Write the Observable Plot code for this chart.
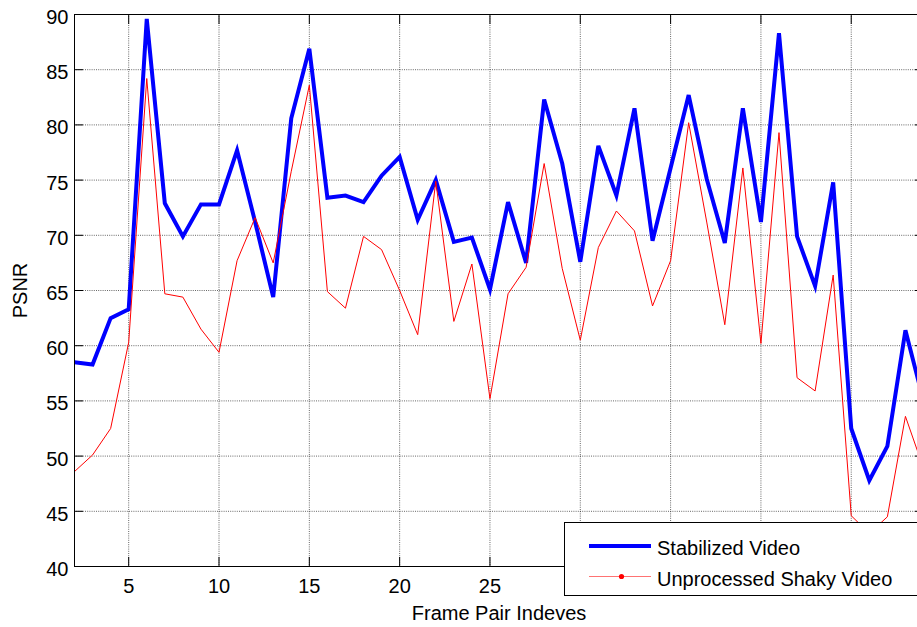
<!DOCTYPE html>
<html>
<head>
<meta charset="utf-8">
<script src="https://cdn.jsdelivr.net/npm/d3@7"></script>
<script src="https://cdn.jsdelivr.net/npm/@observablehq/plot@0.6"></script>
<style>
  html, body { margin: 0; padding: 0; background: #fff; }
  #wrap { position: relative; width: 917px; height: 627px; overflow: hidden; background: #fff; }
  #legend { position: absolute; left: 564px; top: 522px; width: 420px; height: 74px; box-sizing: border-box;
            border: 1px solid #000; background: #fff; }
  #legend svg { display: block; }
</style>
</head>
<body>
<div id="wrap"><div id="legend"></div></div>
<script>
const frameIndex = [2,3,4,5,6,7,8,9,10,11,12,13,14,15,16,17,18,19,20,21,22,23,24,25,26,27,28,29,30,31,32,33,34,35,36,37,38,39,40,41,42,43,44,45,46,47,48,49];
const stabilized = [58.5,58.3,62.5,63.3,89.6,72.9,69.9,72.8,72.8,77.7,71.2,64.4,80.6,86.9,73.4,73.6,73.0,75.4,77.1,71.4,75.0,69.4,69.8,65.1,73.0,67.5,82.3,76.5,67.6,78.1,73.6,81.5,69.5,76.1,82.7,75.1,69.3,81.5,71.2,88.3,69.9,65.4,74.8,52.5,47.8,50.9,61.4,55.0];
const shaky = [48.6,50.1,52.5,60.3,84.2,64.7,64.4,61.5,59.4,67.7,71.6,67.5,75.8,83.6,64.9,63.4,69.9,68.7,65.0,61.0,74.9,62.2,67.4,55.2,64.7,67.1,76.5,67.0,60.5,68.9,72.2,70.4,63.6,67.7,80.2,71.2,61.9,76.1,60.2,79.3,57.1,55.9,66.4,44.6,43.0,44.5,53.6,48.9];
const seriesNames = ["Stabilized Video", "Unprocessed Shaky Video"];
const seriesColors = ["#0000ff", "#ff0000"];
const xTicks = [5,10,15,20,25,30,35,40,45];
// tick labels visible in the reference (30–45 are hidden under the legend box)
const xTickLabels = [5,10,15,20,25];
const yTicks = [40,45,50,55,60,65,70,75,80,85,90];
const xLabel = "Frame Pair Indeves";
const yLabel = "PSNR";

const stabData = frameIndex.map((x, i) => ({x, y: stabilized[i]}));
const shakyData = frameIndex.map((x, i) => ({x, y: shaky[i]}));

const font = "'Liberation Sans', Arial, Helvetica, sans-serif";
const gridStyle = {stroke: "#000", strokeOpacity: 0.6, strokeDasharray: "1,1.2", strokeWidth: 1};

const chart = Plot.plot({
  width: 917,
  height: 627,
  marginTop: 14,
  marginBottom: 61,
  marginLeft: 74,
  marginRight: -6,
  x: {domain: [2, 49]},
  y: {domain: [40, 90]},
  style: {fontFamily: font, fontSize: "20px", color: "#000", background: "#fff", overflow: "hidden"},
  marks: [
    Plot.gridX(xTicks, gridStyle),
    Plot.gridY(yTicks, gridStyle),
    Plot.line(stabData, {x: "x", y: "y", stroke: seriesColors[0], strokeWidth: 4, strokeLinejoin: "miter", strokeMiterlimit: 4, clip: true}),
    Plot.line(shakyData, {x: "x", y: "y", stroke: seriesColors[1], strokeWidth: 1, clip: true}),
    Plot.frame({stroke: "#000", strokeWidth: 1}),
    Plot.axisX(xTickLabels, {anchor: "bottom", tickSize: 0, tickPadding: 12, fontSize: 20,
      label: xLabel, labelAnchor: "center", labelOffset: 53, labelArrow: "none"}),
    Plot.axisX(xTicks, {anchor: "bottom", tickSize: -9, text: null, label: null}),
    Plot.axisX(xTicks, {anchor: "top", tickSize: -9, text: null, label: null}),
    Plot.axisY(yTicks, {anchor: "left", tickSize: 0, tickPadding: 6, fontSize: 20, dy: 3,
      label: yLabel, labelAnchor: "center", labelOffset: 62, labelArrow: "none"}),
    Plot.axisY(yTicks, {anchor: "left", tickSize: -9, text: null, label: null}),
    Plot.axisY(yTicks, {anchor: "right", tickSize: -9, text: null, label: null})
  ]
});
document.getElementById("wrap").prepend(chart);

// Legend
const ns = "http://www.w3.org/2000/svg";
const lsvg = document.createElementNS(ns, "svg");
lsvg.setAttribute("width", "418");
lsvg.setAttribute("height", "72");
lsvg.style.fontFamily = font;
const rows = [{y: 23, base: 32}, {y: 53.5, base: 62.5}];
seriesNames.forEach((name, i) => {
  const ln = document.createElementNS(ns, "line");
  ln.setAttribute("x1", 24); ln.setAttribute("x2", 86);
  ln.setAttribute("y1", rows[i].y); ln.setAttribute("y2", rows[i].y);
  ln.setAttribute("stroke", seriesColors[i]);
  ln.setAttribute("stroke-width", i === 0 ? 4 : 1);
  if (i === 1) ln.setAttribute("stroke-opacity", 0.55);
  lsvg.appendChild(ln);
  if (i === 1) {
    const c = document.createElementNS(ns, "circle");
    c.setAttribute("cx", 56.5); c.setAttribute("cy", rows[i].y); c.setAttribute("r", 2.6);
    c.setAttribute("fill", seriesColors[i]);
    lsvg.appendChild(c);
  }
  const t = document.createElementNS(ns, "text");
  t.setAttribute("x", 92); t.setAttribute("y", rows[i].base);
  t.setAttribute("font-size", 20);
  t.setAttribute("fill", "#000");
  t.textContent = name;
  lsvg.appendChild(t);
});
document.getElementById("legend").appendChild(lsvg);
</script>
</body>
</html>
